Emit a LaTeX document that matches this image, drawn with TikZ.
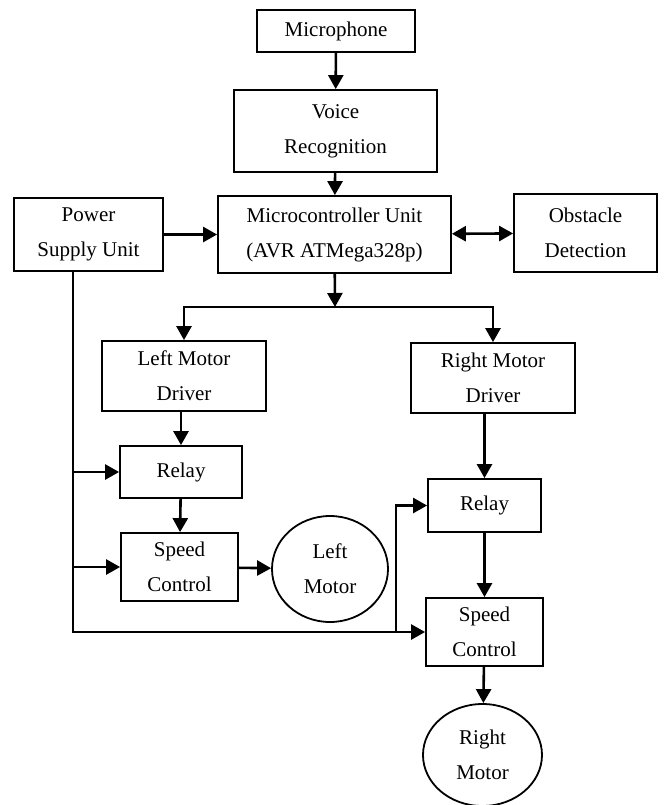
\documentclass[tikz,border=0pt]{standalone}
\usepackage{fontspec}
\setmainfont{Liberation Serif}
\usetikzlibrary{arrows.meta,positioning,shapes.geometric}

\begin{document}
\begin{tikzpicture}[
  x=0.5pt,y=-0.5pt,
  block/.style={draw,line width=0.9pt,align=center,inner sep=0pt,
    font=\fontsize{10.5}{17.5}\selectfont},
  motor/.style={block,ellipse},
  arrow/.style={-{Triangle[length=7pt,width=7.5pt]},line width=1.3pt},
  twoway/.style={{Triangle[length=7pt,width=7.5pt]}-{Triangle[length=7pt,width=7.5pt]},line width=1.3pt}
]
\useasboundingbox (0,0) rectangle (666,805);
\node[block,minimum width=79pt,minimum height=21pt] (mic) at (336,31) {Microphone};
\node[block,minimum width=101.5pt,minimum height=41pt] (voice) at (335.5,131) {Voice\\Recognition};
\node[block,minimum width=116.5pt,minimum height=38.5pt] (mcu) at (334.5,234.5) {Microcontroller Unit\\(AVR ATMega328p)};
\node[block,minimum width=74.5pt,minimum height=36.5pt] (psu) at (88.5,234.5) {Power\\Supply Unit};
\node[block,minimum width=71.5pt,minimum height=39pt] (obs) at (585.5,233) {Obstacle\\Detection};
\node[block,minimum width=82pt,minimum height=35pt] (ldrv) at (184,376) {Left Motor\\Driver};
\node[block,minimum width=82pt,minimum height=35pt] (rdrv) at (493,378) {Right Motor\\Driver};
\node[block,minimum width=61pt,minimum height=26pt] (lrel) at (181,472) {Relay};
\node[block,minimum width=58.5pt,minimum height=34pt] (lspd) at (179.5,567) {Speed\\Control};
\node[motor,minimum width=58pt,minimum height=53pt] (lmot) at (330,569) {Left\\Motor};
\node[block,minimum width=56.5pt,minimum height=26.5pt] (rrel) at (484.5,505.5) {Relay};
\node[block,minimum width=58.5pt,minimum height=34pt] (rspd) at (484.5,632) {Speed\\Control};
\node[motor,minimum width=59.5pt,minimum height=51pt] (rmot) at (482.5,755) {Right\\Motor};

\coordinate (br) at (335,307);
\coordinate (pwr) at (73,271);
\path (rspd.west) ++(-29,0) coordinate (tap);

\draw[arrow] (mic) -- (voice);
\draw[arrow] (voice) -- (mcu);
\draw[arrow] (psu) -- (mcu);
\draw[twoway] (mcu) -- (obs);
\draw[arrow] (mcu) -- (br);
\draw[line width=1.3pt] (188,307) -- (490,307);
\draw[arrow] (br) -| (ldrv);
\draw[arrow] (br) -| (rdrv);
\draw[arrow] (lrel.north |- ldrv.south) -- (lrel);
\draw[arrow] (lrel) -- (lspd);
\draw[arrow] (lspd) -- (lmot);
\draw[arrow] (rrel.north |- rdrv.south) -- (rrel);
\draw[arrow] (rrel) -- (rspd);
\draw[arrow] (rspd) -- (rmot);
\draw[arrow] (pwr) |- (rspd.west);
\draw[arrow] (pwr |- lrel.west) -- (lrel.west);
\draw[arrow] (pwr |- lspd.west) -- (lspd.west);
\draw[arrow] (tap) |- (rrel.west);
\end{tikzpicture}
\end{document}
